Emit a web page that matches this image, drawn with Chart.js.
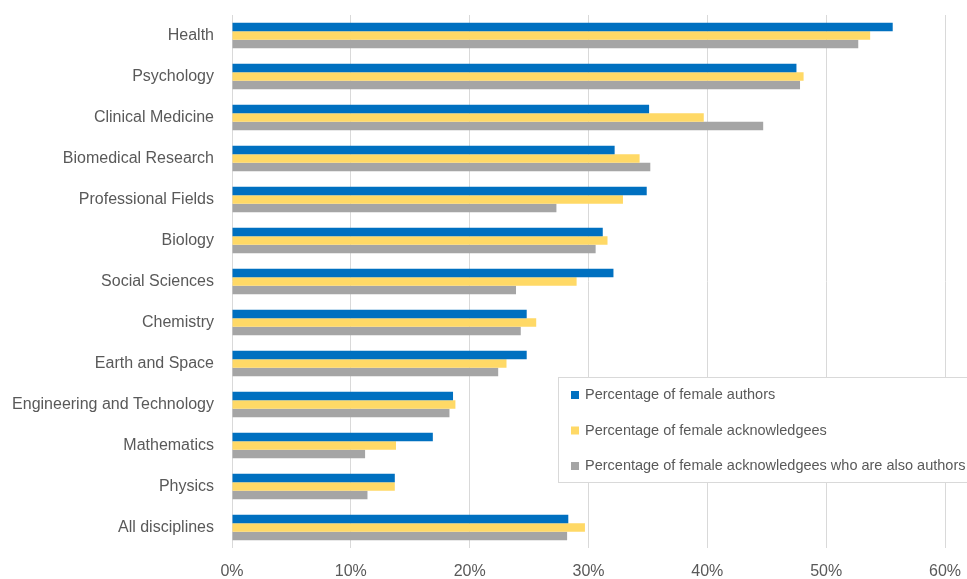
<!DOCTYPE html>
<html>
<head>
<meta charset="utf-8">
<script src="https://cdn.jsdelivr.net/npm/chart.js@4/dist/chart.umd.min.js"></script>
<style>
  html, body { margin: 0; padding: 0; background: #fff; }
  #wrap { width: 967px; height: 579px; }
</style>
</head>
<body>
<div id="wrap"><canvas id="barChart"></canvas></div>
<script>
const disciplinas = ['Health', 'Psychology', 'Clinical Medicine', 'Biomedical Research', 'Professional Fields',
  'Biology', 'Social Sciences', 'Chemistry', 'Earth and Space', 'Engineering and Technology',
  'Mathematics', 'Physics', 'All disciplines'];
const autoras = [55.6, 47.5, 35.1, 32.2, 34.9, 31.2, 32.1, 24.8, 24.8, 18.6, 16.9, 13.7, 28.3];
const agradecidas = [53.7, 48.1, 39.7, 34.3, 32.9, 31.6, 29.0, 25.6, 23.1, 18.8, 13.8, 13.7, 29.7];
const agradecidasAutoras = [52.7, 47.8, 44.7, 35.2, 27.3, 30.6, 23.9, 24.3, 22.4, 18.3, 11.2, 11.4, 28.2];
const ticksX = [0, 10, 20, 30, 40, 50, 60];

window.onload = main;

function main(){
    barChart();
}

// legend inside the plot, like the original
const leyendaInterna = {
  id: 'leyendaInterna',
  afterDatasetsDraw(chart){
    const ctx = chart.ctx;
    const x = 558.5, y = 377.5, w = 420, h = 105;
    ctx.save();
    ctx.fillStyle = '#ffffff';
    ctx.fillRect(x, y, w, h);
    ctx.strokeStyle = '#d9d9d9';
    ctx.lineWidth = 1;
    ctx.strokeRect(x, y, w, h);
    ctx.font = '14.5px "Liberation Sans", Arial, sans-serif';
    ctx.textBaseline = 'middle';
    chart.data.datasets.forEach((ds, i) => {
      const cy = 395 + i * 35.5;
      ctx.fillStyle = ds.backgroundColor;
      ctx.fillRect(571, cy - 4, 8, 8);
      ctx.fillStyle = '#595959';
      ctx.fillText(ds.label, 585, cy);
    });
    ctx.restore();
  }
};

function barChart(){
    const ctx = document.getElementById('barChart').getContext('2d');
    Chart.defaults.font.family = '"Liberation Sans", Arial, sans-serif';
    Chart.defaults.color = '#595959';

    new Chart(ctx, {
      type: 'bar',
      data: {
        labels: disciplinas,
        datasets: [
          { label: 'Percentage of female authors', data: autoras, backgroundColor: '#0070c0' },
          { label: 'Percentage of female acknowledgees', data: agradecidas, backgroundColor: '#ffd966' },
          { label: 'Percentage of female acknowledgees who are also authors', data: agradecidasAutoras, backgroundColor: '#a5a5a5' }
        ]
      },
      options: {
        indexAxis: 'y',
        responsive: true,
        maintainAspectRatio: false,
        animation: false,
        layout: { padding: { top: 15, right: 22, left: 0, bottom: 0 } },
        categoryPercentage: 0.62,
        barPercentage: 1.0,
        plugins: {
          legend: { display: false },
          tooltip: { enabled: false }
        },
        scales: {
          x: {
            min: 0,
            max: 60,
            afterBuildTicks: (scale) => { scale.ticks = ticksX.map(v => ({ value: v })); },
            afterFit: (scale) => {
              scale.height = 31;
              scale.paddingLeft = 0;
              scale.paddingRight = 0;
            },
            grid: { color: '#d9d9d9', drawTicks: false },
            border: { display: false },
            ticks: {
              font: { size: 16 },
              padding: 14,
              callback: (v) => v + '%'
            }
          },
          y: {
            afterFit: (scale) => {
              scale.width = 232;
              scale.paddingTop = 0;
              scale.paddingBottom = 0;
            },
            grid: { display: false },
            border: { display: false },
            ticks: { font: { size: 16 }, padding: 10 }
          }
        }
      },
      plugins: [leyendaInterna]
    });
}
</script>
</body>
</html>
